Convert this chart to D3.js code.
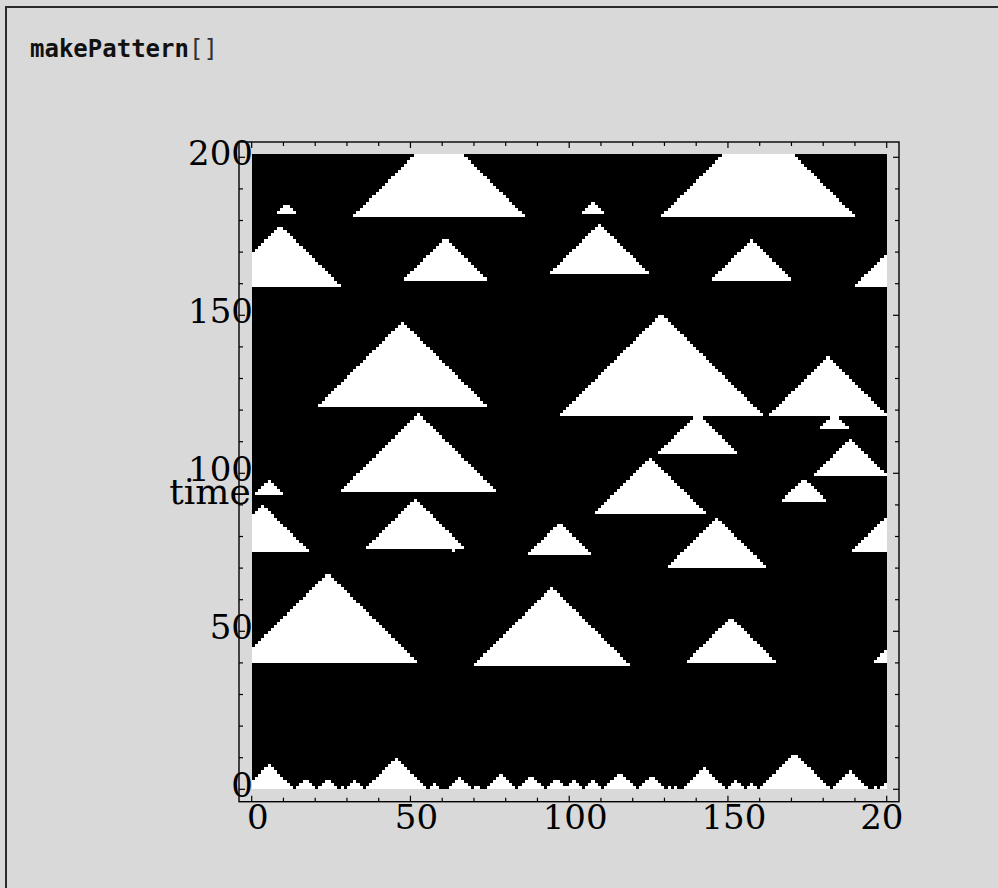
<!DOCTYPE html>
<html>
<head>
<meta charset="utf-8">
<script src="https://cdn.jsdelivr.net/npm/d3@7"></script>
<style>
  html, body { margin: 0; padding: 0; background: #d9d9d9; }
  svg { display: block; }
</style>
</head>
<body>
<script>
// ---------------- DATA ----------------
// Cellular pattern: 200 columns (cells), 201 time steps (rows 0..200).
const gridCols = 200;
const gridRows = 201;

// White triangles growing from the initial row (t = 0): [leftCol, rightColExclusive, baseRow, rows]
const initialTriangles = [
  [198, 213, 0, 8], [14, 20, 0, 3], [21, 27, 0, 3], [28, 29, 0, 1], [30, 35, 0, 3],
  [36, 55, 0, 10], [56, 59, 0, 2], [62, 69, 0, 4], [70, 72, 0, 1], [74, 83, 0, 5],
  [84, 92, 0, 4], [93, 99, 0, 3], [99, 104, 0, 3], [105, 110, 0, 3], [111, 121, 0, 5],
  [122, 130, 0, 4], [131, 132, 0, 1], [133, 134, 0, 1], [136, 149, 0, 7], [150, 155, 0, 3],
  [156, 159, 0, 2], [160, 182, 0, 11], [183, 194, 0, 6], [196, 197, 0, 1]
];

// White triangles appearing later in time: [leftCol, rightColExclusive, baseRow, rows]
const laterTriangles = [
  [196, 252, 40, 28], [70, 119, 39, 25], [137, 165, 40, 14],
  [131, 162, 70, 16], [87, 107, 74, 10], [189, 218, 75, 15], [36, 67, 76, 16], [63, 64, 75, 1],
  [108, 143, 87, 18], [167, 181, 91, 7], [1, 10, 93, 5], [28, 77, 94, 25], [177, 200, 99, 12],
  [128, 153, 106, 12], [179, 188, 114, 4],
  [97, 161, 118, 32], [163, 200, 118, 19], [21, 74, 121, 27],
  [190, 228, 159, 19], [48, 74, 161, 13], [145, 170, 161, 13], [94, 125, 163, 16],
  [32, 86, 181, 27], [129, 190, 181, 31], [8, 14, 182, 3], [104, 111, 182, 4]
];

const majorTicks = [0, 50, 100, 150, 200];
const minorTicks = [10, 20, 30, 40, 60, 70, 80, 90, 110, 120, 130, 140, 160, 170, 180, 190];
const xTickLabels = ["0", "50", "100", "150", "200"];
const yTickLabels = ["0", "50", "100", "150", "200"];
const yAxisLabel = "time";
const titleCode = "makePattern";
const titleArgs = "[]";

// ---------------- LAYOUT ----------------
const W = 998, H = 888;
const svg = d3.select("body").append("svg").attr("width", W).attr("height", H);

const x = d3.scaleLinear().domain([0, 200]).range([251.7, 886.7]);
const y = d3.scaleLinear().domain([0, 200]).range([789.3, 157.3]);

const frame = { x0: 239, x1: 899, y0: 142, y1: 801.7 };

svg.append("rect").attr("width", W).attr("height", H).attr("fill", "#d9d9d9");
// cell border (open to right/bottom)
svg.append("rect").attr("x", 6).attr("y", 7).attr("width", W + 20).attr("height", H + 20)
  .attr("fill", "none").attr("stroke", "#2a2a2a").attr("stroke-width", 2);

// title
const title = svg.append("text").attr("x", 30).attr("y", 57)
  .attr("font-family", "'DejaVu Sans Mono', monospace").attr("font-size", 24);
title.append("tspan").attr("font-weight", "bold").attr("fill", "#111").text(titleCode);
title.append("tspan").attr("font-weight", "normal").attr("fill", "#333").text(titleArgs);

// ---------------- GRID ----------------
const grid = Array.from({ length: gridRows }, () => new Uint8Array(gridCols));
function addTriangle([a, b, t0, h]) {
  for (let k = 0; k < h; k++) {
    const t = t0 + k;
    if (t >= gridRows) break;
    const c0 = a + k, c1 = b - k; // exclusive
    if (c0 >= c1) break;
    for (let c = c0; c < c1; c++) grid[t][((c % gridCols) + gridCols) % gridCols] = 1;
  }
}
initialTriangles.forEach(addTriangle);
laterTriangles.forEach(addTriangle);

// runs of white cells per row
const runs = [];
for (let t = 0; t < gridRows; t++) {
  let c = 0;
  while (c < gridCols) {
    if (grid[t][c]) {
      let e = c;
      while (e + 1 < gridCols && grid[t][e + 1]) e++;
      runs.push({ t, c0: c, c1: e + 1 });
      c = e + 1;
    } else c++;
  }
}

const plot = svg.append("g").attr("shape-rendering", "crispEdges");
plot.append("rect")
  .attr("x", x(0)).attr("y", y(gridRows))
  .attr("width", x(gridCols) - x(0)).attr("height", y(0) - y(gridRows))
  .attr("fill", "#000");
plot.selectAll("rect.run").data(runs).join("rect").attr("class", "run")
  .attr("x", d => x(d.c0)).attr("width", d => x(d.c1) - x(d.c0))
  .attr("y", d => y(d.t + 1)).attr("height", d => y(d.t) - y(d.t + 1))
  .attr("fill", "#fff");

// ---------------- FRAME + TICKS ----------------
svg.append("rect").attr("x", frame.x0).attr("y", frame.y0)
  .attr("width", frame.x1 - frame.x0).attr("height", frame.y1 - frame.y0)
  .attr("fill", "none").attr("stroke", "#000").attr("stroke-width", 1.4);

const tg = svg.append("g").attr("stroke", "#000").attr("stroke-width", 1.2);
const ticks = majorTicks.map(v => ({ v, len: 6 })).concat(minorTicks.map(v => ({ v, len: 4 })));
ticks.forEach(({ v, len }) => {
  tg.append("line").attr("x1", x(v)).attr("x2", x(v)).attr("y1", frame.y1).attr("y2", frame.y1 - len);
  tg.append("line").attr("x1", x(v)).attr("x2", x(v)).attr("y1", frame.y0).attr("y2", frame.y0 + len);
  tg.append("line").attr("y1", y(v)).attr("y2", y(v)).attr("x1", frame.x0).attr("x2", frame.x0 + len);
  tg.append("line").attr("y1", y(v)).attr("y2", y(v)).attr("x1", frame.x1).attr("x2", frame.x1 - len);
});

// ---------------- LABELS ----------------
svg.append("clipPath").attr("id", "lblclip").append("rect")
  .attr("x", 0).attr("y", 0).attr("width", 904).attr("height", H);

const lbl = svg.append("g").attr("clip-path", "url(#lblclip)")
  .attr("font-family", "'DejaVu Serif', serif").attr("font-size", 34).attr("fill", "#000");

lbl.selectAll("text.xl").data(majorTicks).join("text").attr("class", "xl")
  .attr("x", d => x(d) + 6).attr("y", 829).attr("text-anchor", "middle")
  .text((d, i) => xTickLabels[i]);

lbl.selectAll("text.yl").data(majorTicks).join("text").attr("class", "yl")
  .attr("x", 253).attr("y", d => y(d) + 8).attr("text-anchor", "end")
  .text((d, i) => yTickLabels[i]);

svg.append("text").attr("x", 210).attr("y", 504).attr("text-anchor", "middle")
  .attr("font-family", "'DejaVu Serif', serif").attr("font-size", 36).attr("fill", "#000")
  .text(yAxisLabel);
</script>
</body>
</html>
